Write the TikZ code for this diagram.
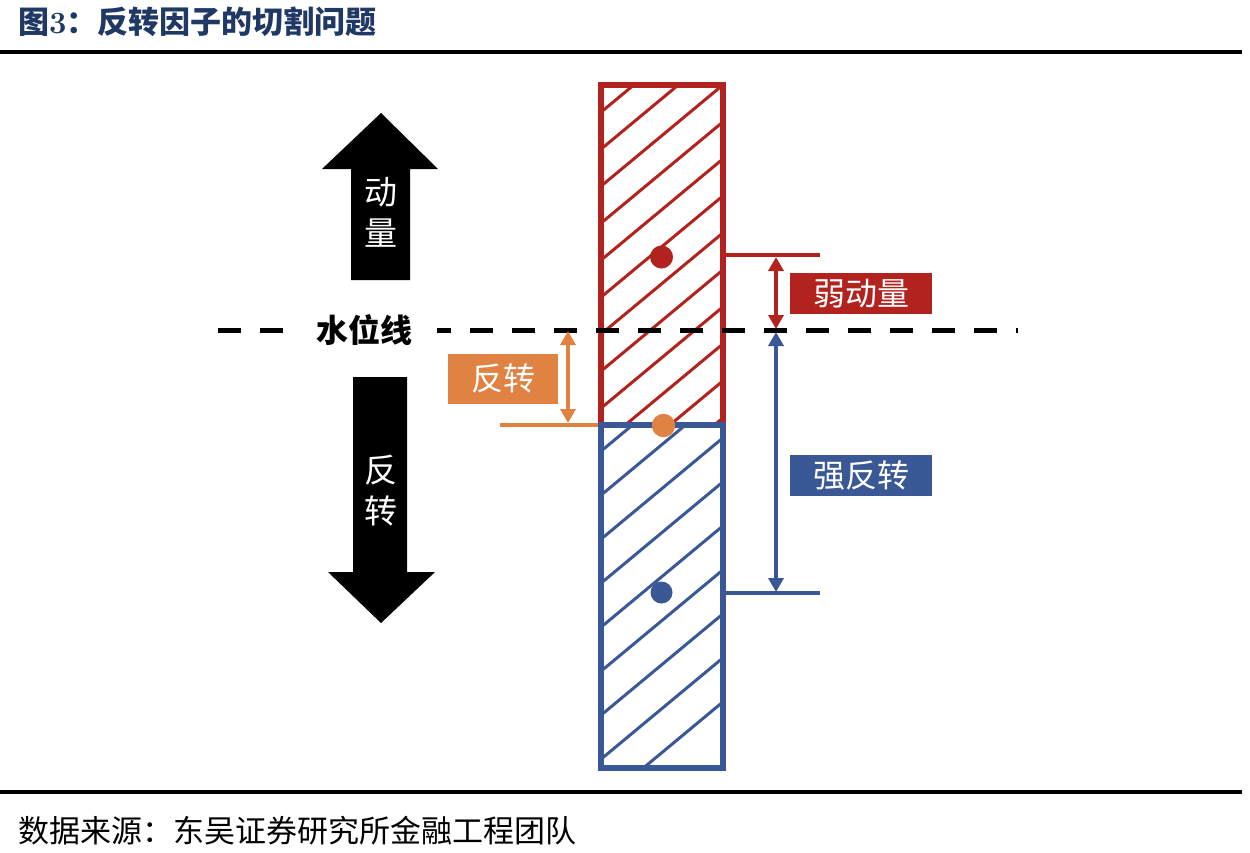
\documentclass[tikz,border=0pt]{standalone}
\usepackage{fontspec}
\newfontfamily\cjk{Noto Sans CJK SC}
\usetikzlibrary{arrows.meta}

\definecolor{momred}{RGB}{178,34,30}
\definecolor{revblue}{RGB}{58,88,150}
\definecolor{revorange}{RGB}{224,130,66}
\definecolor{titlenavy}{RGB}{31,56,100}

\begin{document}
\begin{tikzpicture}[
  x=1pt, y=-1pt,
  >={Triangle[length=14pt,width=15pt]},
  rule/.style={line width=3.5pt},
  frame/.style={line width=6pt},
  hatch/.style={line width=3pt},
  level/.style={line width=3.5pt},
  dimarrow/.style={line width=3.5pt, <->},
  waterline/.style={line width=5pt, dash pattern=on 23pt off 19pt},
  titletxt/.style={font=\cjk\bfseries\fontsize{31}{37}\selectfont, text=titlenavy, inner sep=0pt},
  foottxt/.style={font=\cjk\fontsize{31}{37}\selectfont, inner sep=0pt},
  bigtxt/.style={font=\cjk\fontsize{33}{41}\selectfont, text=white, inner sep=0pt, align=center},
  tag/.style={font=\cjk\fontsize{32}{38}\selectfont, text=white, inner sep=0pt,
              minimum width=142pt, minimum height=41pt},
  wltext/.style={font=\cjk\bfseries\fontsize{32}{38}\selectfont, fill=white,
                 inner xsep=25pt, inner ysep=2pt}
]
\useasboundingbox (0,0) rectangle (1250,852);

% ---------- judul dan garis atas / bawah ----------
\node[titletxt, anchor=west] (title) at (18,22) {图{\rmfamily\bfseries 3}：反转因子的切割问题};
\draw[rule] (0,52) -- (1242,52);
\draw[rule] (0,792) -- (1242,792);
\node[foottxt, anchor=west] (src) at (18,831) {数据来源：东吴证券研究所金融工程团队};

% ---------- panah hitam kiri ----------
\fill (351,280) -- (351,169) -- (322,169) -- (381,113) -- (438,169)
      -- (410,169) -- (410,280) -- cycle;
\node[bigtxt] (mom) at (381,212) {动\\量};
\fill (353,377) -- (407,377) -- (407,572) -- (435,572) -- (381,623)
      -- (328,572) -- (353,572) -- cycle;
\node[bigtxt] (rev) at (381,491) {反\\转};

% ---------- batang merah / biru dengan arsiran ----------
\begin{scope}
  \clip (601,84.5) rectangle (723,425);
  \foreach \c in {113,150,...,520}
    \draw[hatch, momred] (600,\c) -- ++(124,-103);
\end{scope}
\begin{scope}
  \clip (601,425) rectangle (723,768);
  \foreach \c in {452,496,...,804}
    \draw[hatch, revblue] (600,\c) -- ++(124,-103);
\end{scope}
\draw[frame, momred] (601,84.5) rectangle (723,425);
\draw[frame, revblue] (601,425) rectangle (723,768);

% ---------- garis level ----------
\coordinate (rl-w) at (726,255);
\coordinate (rl-e) at (820,255);
\coordinate (bl-w) at (726,593);
\coordinate (bl-e) at (820,593);
\coordinate (ol-w) at (500,425);
\coordinate (ol-e) at (598,425);
\draw[level, momred]    (rl-w) -- (rl-e);
\draw[level, revblue]   (bl-w) -- (bl-e);
\draw[level, revorange] (ol-w) -- (ol-e);

% ---------- garis air (putus-putus) ----------
\coordinate (wl-w) at (218,330);
\coordinate (wl-e) at (1018,330);
\draw[waterline] (wl-w) -- (wl-e);
\node[wltext] (wl) at (364,330) {水位线};

% ---------- panah jarak ----------
\coordinate (ra-t) at (776,257);
\coordinate (ra-b) at (776,329);
\coordinate (ba-t) at (776,332);
\coordinate (ba-b) at (776,592);
\coordinate (oa-t) at (568,331);
\coordinate (oa-b) at (568,423);
\draw[dimarrow, momred]    (ra-t) -- (ra-b);
\draw[dimarrow, revblue]   (ba-t) -- (ba-b);
\draw[dimarrow, revorange] (oa-t) -- (oa-b);

% ---------- titik ----------
\fill[momred]    (661.5,257)   circle (11.5);
\fill[revblue]   (661.5,592.5) circle (11);
\fill[revorange] (663.5,425.5) circle (11.7);

% ---------- label berwarna ----------
\node[tag, fill=momred]  (weak)   at (861,293.5) {弱动量};
\node[tag, fill=revblue] (strong) at (861,475.5) {强反转};
\node[tag, fill=revorange, minimum width=110pt, minimum height=50pt]
      (revtag) at (503,378.5) {反转};

\end{tikzpicture}
\end{document}
